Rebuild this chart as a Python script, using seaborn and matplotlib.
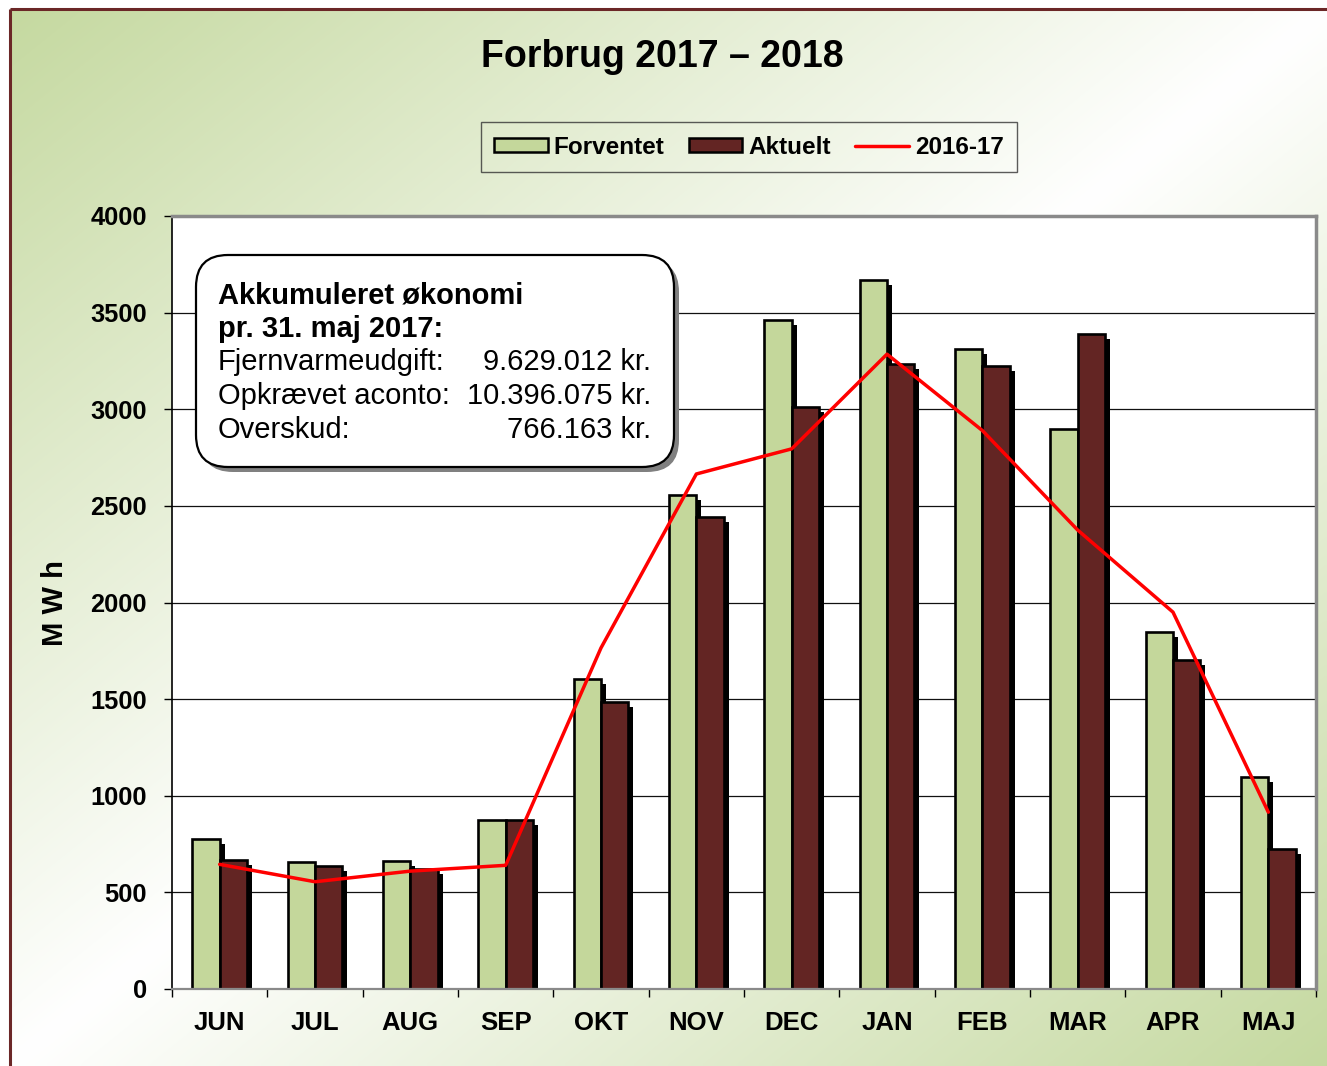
import numpy as np
import pandas as pd
import matplotlib.pyplot as plt
import seaborn as sns
from matplotlib import patheffects
from matplotlib.patches import FancyBboxPatch, Patch
from matplotlib.lines import Line2D

# data
months = ['JUN', 'JUL', 'AUG', 'SEP', 'OKT', 'NOV', 'DEC', 'JAN', 'FEB', 'MAR', 'APR', 'MAJ']
forventet = [775, 655, 660, 875, 1605, 2555, 3460, 3670, 3310, 2900, 1845, 1095]
aktuelt = [670, 635, 620, 875, 1485, 2440, 3010, 3235, 3225, 3390, 1700, 725]
prev_year = [645, 555, 610, 640, 1765, 2665, 2795, 3285, 2890, 2375, 1950, 915]
series_names = ['Forventet', 'Aktuelt']
line_name = '2016-17'

info_title = ['Akkumuleret økonomi', 'pr. 31. maj 2017:']
info_labels = ['Fjernvarmeudgift:', 'Opkrævet aconto:', 'Overskud:']
info_values = ['9.629.012 kr.', '10.396.075 kr.', '766.163 kr.']

green = '#c4d79b'
maroon = '#632523'
W, H = 1327, 1066

sns.set_theme(style='white')
plt.rcParams['font.family'] = ['Liberation Sans', 'DejaVu Sans']
plt.rcParams['font.weight'] = 'bold'
for k in ['text.color', 'axes.labelcolor', 'xtick.color', 'ytick.color']:
    plt.rcParams[k] = 'black'

df = pd.DataFrame({'month': months, series_names[0]: forventet, series_names[1]: aktuelt})
df = df.melt(id_vars='month', var_name='serie', value_name='mwh')

fig = plt.figure(figsize=(W / 100, H / 100), dpi=100)

# background: diagonal green - white - green gradient with dark red border
bg = fig.add_axes([0, 0, 1, 1], zorder=-10)
xx, yy = np.meshgrid(np.linspace(0, 1, 300), np.linspace(0, 1, 240))
t = np.abs((xx + yy) / 2 - 0.5) * 2
c0 = np.array([197, 217, 160]) / 255
img = c0 * t[..., None] + (1 - t[..., None])
bg.imshow(img, extent=(10, W, H, 9), aspect='auto', interpolation='bilinear')
bg.set_xlim(0, W)
bg.set_ylim(H, 0)
bg.plot([10, 10], [H, 9], color='#6b2727', lw=2.2, solid_capstyle='butt')
bg.plot([10, W], [9, 9], color='#6b2727', lw=2.2, solid_capstyle='butt')
bg.axis('off')

ax = fig.add_axes([172 / W, 1 - 989 / H, (1316 - 172) / W, (989 - 216) / H])
ax.set_facecolor('white')
sns.barplot(data=df, x='month', y='mwh', hue='serie', order=months, hue_order=series_names,
            palette=[green, maroon], width=0.57, saturation=1, edgecolor='black',
            linewidth=1.9, legend=False, ax=ax)
for bar in ax.patches:
    bar.set_path_effects([patheffects.SimplePatchShadow(offset=(3.6, -3.6), shadow_rgbFace='black', alpha=1),
                          patheffects.Normal()])

sns.lineplot(x=months, y=prev_year, color='red', lw=2.5, sort=False, ax=ax, legend=False)

ax.set_xlim(-0.5, 11.5)
ax.set_ylim(0, 4000)
ax.set_yticks(np.arange(0, 4001, 500))
ax.set_xticks(np.arange(-0.5, 12, 1), minor=True)
ax.set_xlabel('')
ax.set_ylabel('')
ax.tick_params(axis='x', which='major', bottom=False, length=0, pad=16, labelsize=18.5)
ax.tick_params(axis='x', which='minor', bottom=True, length=6, width=1, color='black', direction='out')
ax.tick_params(axis='y', left=True, length=6, width=1, color='black', direction='out', pad=12, labelsize=18.3)
ax.yaxis.grid(True, color='#111111', lw=0.9)
ax.set_axisbelow(True)
for s in ['top', 'right']:
    ax.spines[s].set_color('#8a8a8a')
    ax.spines[s].set_linewidth(2.5)
ax.spines['bottom'].set_color('#8a8a8a')
ax.spines['bottom'].set_linewidth(1.6)
ax.spines['left'].set_color('black')
ax.spines['left'].set_linewidth(1.2)

fig.text(662 / W, 1 - 57 / H, 'Forbrug 2017 – 2018', ha='center', va='center', fontsize=27)
fig.text(55 / W, 1 - 603 / H, 'M W h', rotation=90, ha='center', va='center', fontsize=21)

handles = [Patch(facecolor=green, edgecolor='black', lw=1.8),
           Patch(facecolor=maroon, edgecolor='black', lw=1.8),
           Line2D([], [], color='red', lw=2.5)]
leg = fig.legend(handles, series_names + [line_name], loc='center',
                 bbox_to_anchor=(749 / W, 1 - 147 / H), ncol=3, frameon=True, fancybox=False,
                 edgecolor='#333333', facecolor='none', fontsize=17.5, handlelength=2.2,
                 handleheight=0.5, handletextpad=0.25, columnspacing=1.0, borderpad=0.55)
leg.get_frame().set_linewidth(1)

# text box with accumulated economy
box = FancyBboxPatch((196 / 100, (H - 467) / 100), (674 - 196) / 100, (467 - 255) / 100,
                     boxstyle='round,pad=0,rounding_size=0.32', transform=fig.dpi_scale_trans,
                     facecolor='white', edgecolor='black', lw=1.6, zorder=5,
                     path_effects=[patheffects.SimplePatchShadow(offset=(3.6, -3.6), shadow_rgbFace='#808080', alpha=1),
                                   patheffects.Normal()])
fig.add_artist(box)
for i, line in enumerate(info_title):
    fig.text(218 / W, 1 - (303 + i * 33.7) / H, line, fontsize=21, va='baseline', zorder=6)
for i, (lab, val) in enumerate(zip(info_labels, info_values)):
    y = 1 - (303 + (i + 2) * 33.7) / H
    fig.text(218 / W, y, lab, fontsize=21, weight='normal', va='baseline', zorder=6)
    fig.text(651 / W, y, val, fontsize=21, weight='normal', ha='right', va='baseline', zorder=6)

fig.savefig('out.png', dpi=100)
